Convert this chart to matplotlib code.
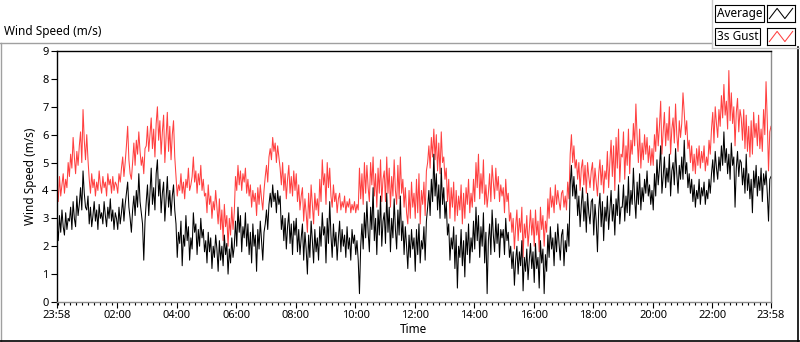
import numpy as np
import matplotlib
matplotlib.use("Agg")
import matplotlib.pyplot as plt
from matplotlib.lines import Line2D

plt.rcParams["font.family"] = ["Noto Sans", "DejaVu Sans"]

# 2.5-minute samples, two rows per hour, starting 23:58
average = [
    2.8, 2.2, 3.1, 2.5, 3.3, 2.7, 2.4, 3.2, 2.6, 3.0, 2.9, 3.4,
    2.6, 3.6, 3.0, 2.7, 3.8, 3.1, 3.5, 4.1, 3.3, 4.7, 3.9, 3.4,
    3.3, 3.8, 2.8, 3.4, 2.7, 3.1, 3.6, 2.9, 3.3, 2.6, 3.5, 3.0,
    3.2, 2.8, 3.6, 3.1, 2.7, 3.4, 3.0, 3.7, 2.9, 3.3, 2.6, 3.2,
    3.0, 2.6, 3.4, 2.8, 3.2, 3.7, 2.9, 3.5, 3.9, 4.3, 3.4, 3.0,
    2.5, 3.3, 3.8, 3.1, 4.0, 3.4, 4.6, 3.6, 3.2, 2.8, 1.5, 2.9,
    3.6, 4.2, 3.1, 3.9, 4.8, 3.5, 4.1, 3.3, 4.6, 5.1, 3.8, 4.4,
    3.2, 3.9, 4.3, 2.9, 3.7, 4.5, 3.4, 4.0, 3.1, 3.8, 4.2, 3.3,
    2.8, 1.6, 2.5, 2.1, 2.9, 1.3, 2.4, 2.0, 3.1, 2.2, 2.7, 1.5,
    2.3, 1.9, 3.2, 2.5, 2.8, 1.7, 2.6, 2.0, 3.0, 2.3, 2.6, 1.8,
    2.2, 1.4, 2.5, 1.8, 2.3, 1.2, 2.0, 1.6, 2.4, 1.9, 1.1, 2.2,
    1.5, 2.0, 1.3, 2.4, 1.7, 2.1, 1.0, 1.9, 1.4, 2.3, 1.6, 2.0,
    2.9, 2.0, 3.4, 2.5, 3.1, 1.8, 2.7, 2.3, 3.2, 2.0, 2.8, 1.7,
    2.5, 1.4, 2.8, 2.0, 2.4, 1.1, 2.6, 1.9, 2.9, 2.2, 1.5, 2.5,
    2.8, 3.3, 2.6, 3.5, 3.9, 3.4, 4.2, 3.6, 3.9, 3.2, 4.0, 3.5,
    3.8, 2.6, 3.1, 2.2, 3.0, 1.9, 2.7, 3.2, 2.1, 2.8, 1.7, 2.9,
    2.4, 3.0, 1.8, 2.6, 1.7, 2.3, 2.8, 1.5, 2.5, 1.9, 1.0, 2.4,
    1.6, 2.9, 2.2, 1.4, 2.6, 1.8, 2.3, 1.5, 2.7, 2.0, 3.2, 2.4,
    2.7, 1.4, 3.0, 2.1, 3.6, 2.4, 1.6, 2.8, 2.0, 2.5, 1.5, 2.3,
    2.9, 1.8, 2.6, 2.0, 2.4, 1.6, 2.7, 1.9, 2.3, 1.5, 2.6, 2.1,
    2.4, 1.7, 2.2, 1.5, 0.3, 2.0, 2.8, 1.9, 3.2, 2.3, 3.6, 2.5,
    1.8, 3.4, 2.6, 4.1, 2.2, 3.0, 1.7, 3.3, 2.4, 3.8, 2.0, 2.9,
    3.2, 2.1, 3.9, 2.5, 3.4, 1.8, 3.0, 2.3, 3.7, 2.6, 1.9, 3.3,
    2.4, 3.8, 2.2, 2.9, 1.7, 2.7, 2.0, 1.2, 2.4, 1.6, 2.6, 1.9,
    2.3, 1.1, 2.6, 1.7, 2.8, 1.4, 2.2, 1.9, 2.7, 1.5, 2.9, 3.4,
    4.0, 3.1, 4.4, 3.6, 5.3, 3.8, 4.6, 3.3, 4.2, 3.0, 4.8, 3.5,
    4.1, 3.0, 3.6, 2.4, 2.8, 1.5, 2.3, 1.9, 2.7, 1.2, 2.4, 0.5,
    2.0, 1.6, 2.6, 1.3, 2.2, 0.9, 2.5, 1.7, 2.8, 1.4, 2.3, 1.8,
    2.9, 1.9, 3.4, 2.2, 3.1, 1.6, 2.7, 2.0, 3.2, 1.4, 2.5, 0.3,
    2.2, 2.8, 1.7, 3.3, 2.4, 1.8, 3.0, 2.1, 2.8, 1.6, 2.6, 2.3,
    2.6, 1.7, 3.0, 2.2, 2.5, 1.6, 2.0, 1.2, 1.8, 0.6, 1.5, 2.0,
    1.0, 1.8, 1.3, 2.2, 0.4, 1.6, 1.1, 1.9, 0.8, 1.5, 2.1, 1.2,
    1.8, 0.7, 2.1, 1.2, 1.6, 0.5, 2.2, 1.4, 1.9, 0.3, 1.7, 1.1,
    2.4, 1.6, 2.7, 1.9, 2.3, 1.3, 2.5, 1.8, 2.8, 2.1, 1.5, 2.4,
    2.6, 1.3, 2.2, 1.8, 2.8, 2.0, 4.2, 4.9, 3.8, 4.5, 3.7, 4.2,
    3.1, 3.8, 2.7, 3.5, 4.1, 2.9, 3.6, 2.5, 3.9, 3.2, 2.8, 3.6,
    3.7, 2.4, 3.5, 2.9, 1.8, 3.3, 3.9, 2.7, 3.6, 2.2, 3.4, 2.9,
    3.8, 2.6, 3.3, 4.0, 2.9, 3.5, 2.4, 3.7, 3.1, 4.2, 2.8, 3.4,
    3.4, 4.2, 2.9, 3.8, 3.2, 4.5, 3.1, 4.0, 3.5, 4.8, 3.7, 3.0,
    4.3, 3.5, 4.6, 3.3, 4.1, 3.6, 4.4, 3.9, 4.7, 3.8, 4.2, 3.5,
    4.0, 3.3, 4.6, 3.8, 5.1, 4.2, 4.8, 5.6, 3.9, 4.5, 5.2, 4.1,
    4.8, 4.3, 5.3, 3.8, 4.7, 5.0, 4.2, 5.5, 4.6, 3.9, 4.9, 4.4,
    5.2, 4.4, 5.8, 4.6, 5.0, 4.1, 4.6, 3.9, 4.4, 3.6, 4.2, 3.4,
    4.0, 3.7, 4.4, 3.5, 4.1, 3.8, 4.3, 3.5, 4.0, 3.7, 4.4, 3.9,
    4.6, 5.1, 4.3, 5.4, 4.8, 4.4, 5.2, 4.7, 5.6, 4.9, 6.1, 5.0,
    5.5, 4.6, 5.3, 4.4, 5.7, 4.9, 5.2, 3.4, 4.8, 5.4, 4.5, 5.1,
    5.0, 4.2, 4.8, 3.9, 5.3, 4.0, 4.6, 3.7, 4.4, 3.2, 4.7, 4.1,
    4.9, 3.8, 4.5, 4.0, 4.8, 3.6, 4.6, 4.2, 4.7, 3.9, 2.9, 4.4,
    4.5,
]

gust = [
    4.3, 3.6, 4.5, 3.8, 4.2, 4.6, 3.9, 4.4, 4.1, 5.0, 4.5, 5.3,
    4.8, 5.9, 5.2, 4.6, 5.4, 4.9, 5.6, 6.1, 5.0, 6.9, 5.8, 5.1,
    6.0, 5.1, 4.4, 3.9, 4.6, 4.1, 4.4, 3.8, 4.3, 4.0, 4.7, 4.2,
    3.9, 4.5, 4.1, 4.3, 3.8, 4.6, 4.2, 4.4, 3.9, 4.5, 4.0, 4.3,
    4.2, 3.9, 4.6, 4.3, 4.8, 5.2, 4.5, 5.0, 5.6, 6.3, 5.1, 4.6,
    4.4, 5.0, 5.7, 4.9, 5.8, 5.3, 6.1, 5.4, 4.9, 5.2, 4.6, 5.5,
    5.6, 6.3, 5.4, 6.0, 6.6, 5.5, 6.2, 5.2, 6.4, 7.0, 5.8, 6.5,
    5.3, 6.1, 6.7, 5.0, 5.9, 6.8, 5.4, 6.3, 5.1, 6.0, 6.5, 5.2,
    4.5, 3.8, 4.2, 4.0, 4.6, 3.9, 4.3, 3.7, 4.4, 4.1, 4.8, 4.0,
    4.2, 4.5, 5.2, 4.3, 4.7, 3.9, 4.6, 4.2, 4.9, 4.0, 4.4, 3.8,
    3.9, 3.2, 4.2, 3.5, 3.8, 3.0, 3.6, 3.3, 4.0, 3.4, 2.8, 3.7,
    2.6, 3.3, 2.2, 3.5, 2.7, 3.1, 2.0, 3.0, 2.4, 3.4, 2.6, 3.2,
    4.5, 4.0, 4.9, 4.2, 4.7, 4.0, 4.6, 4.3, 4.8, 3.9, 4.4, 3.8,
    4.2, 3.4, 4.0, 3.6, 3.9, 3.1, 4.1, 3.5, 4.2, 3.7, 3.3, 4.0,
    4.5, 4.9, 4.3, 5.2, 5.5, 5.1, 5.9, 5.4, 5.7, 5.0, 5.6, 5.2,
    4.8, 4.2, 5.0, 4.0, 4.6, 3.7, 4.4, 4.9, 3.9, 4.5, 3.8, 4.7,
    4.0, 4.6, 3.6, 4.2, 3.3, 3.8, 4.1, 2.9, 3.7, 3.2, 2.5, 3.9,
    3.0, 4.2, 3.5, 2.8, 3.9, 3.3, 3.7, 3.1, 4.4, 3.6, 5.1, 4.2,
    4.6, 3.5, 5.0, 4.1, 4.8, 3.8, 3.4, 4.2, 3.6, 3.9, 3.2, 3.7,
    3.9, 3.3, 3.6, 3.4, 3.8, 3.2, 3.6, 3.4, 3.7, 3.2, 3.5, 3.3,
    3.6, 3.2, 3.5, 3.3, 4.8, 3.7, 4.6, 3.5, 5.0, 3.9, 4.9, 4.1,
    3.6, 5.0, 4.2, 5.2, 3.8, 4.6, 3.4, 4.8, 3.9, 5.1, 3.6, 4.4,
    4.7, 3.6, 5.2, 3.9, 4.8, 3.4, 4.5, 3.8, 5.1, 4.0, 3.5, 4.9,
    3.7, 5.2, 3.9, 4.4, 3.4, 4.1, 3.2, 2.8, 4.0, 3.0, 4.3, 3.4,
    3.9, 3.0, 4.4, 3.2, 4.6, 2.8, 4.0, 3.5, 4.3, 3.1, 4.7, 5.0,
    5.6, 4.8, 5.9, 5.2, 6.2, 5.1, 6.0, 4.7, 5.7, 4.6, 6.1, 5.0,
    5.2, 4.4, 4.8, 3.6, 4.4, 3.0, 4.1, 3.4, 4.3, 2.9, 4.0, 3.1,
    3.8, 3.3, 4.2, 2.8, 3.9, 3.0, 4.1, 3.5, 4.4, 3.2, 3.9, 3.4,
    4.4, 3.6, 5.0, 4.1, 5.3, 3.7, 4.6, 3.9, 5.1, 3.5, 4.2, 3.4,
    3.9, 4.6, 3.6, 4.9, 4.3, 3.7, 4.8, 4.0, 4.5, 3.6, 4.2, 3.8,
    4.1, 3.2, 4.4, 3.6, 3.9, 2.9, 3.2, 2.5, 3.0, 1.9, 2.7, 3.3,
    2.2, 3.0, 2.5, 3.4, 1.6, 2.8, 2.3, 3.1, 2.0, 2.6, 3.3, 2.4,
    3.0, 2.0, 3.3, 2.4, 2.9, 1.8, 3.4, 2.6, 3.1, 2.0, 2.9, 2.5,
    3.7, 3.0, 4.1, 3.4, 3.8, 3.2, 4.2, 3.5, 4.0, 3.6, 3.3, 3.9,
    4.0, 3.4, 3.8, 3.3, 4.3, 3.7, 5.3, 6.0, 5.0, 5.6, 4.8, 5.1,
    4.4, 5.0, 4.0, 4.8, 5.1, 4.2, 4.9, 3.9, 5.0, 4.5, 4.1, 4.7,
    5.0, 4.0, 4.8, 4.3, 3.8, 4.6, 5.1, 4.2, 4.9, 3.9, 4.7, 4.4,
    5.4, 4.1, 5.0, 5.8, 4.5, 5.6, 4.0, 5.9, 4.8, 6.2, 4.3, 5.3,
    5.2, 6.1, 4.4, 5.6, 4.9, 6.2, 4.6, 5.8, 5.3, 6.4, 5.6, 7.1,
    5.9, 5.0, 6.2, 4.8, 5.7, 5.1, 6.0, 5.3, 5.9, 5.0, 5.6, 4.9,
    5.5, 4.9, 6.0, 5.4, 6.6, 5.6, 6.3, 7.2, 5.3, 6.1, 6.8, 5.6,
    6.4, 5.8, 7.0, 5.3, 6.2, 6.6, 5.7, 7.1, 6.0, 5.4, 6.5, 5.9,
    6.4, 7.5, 6.8, 6.0, 6.5, 5.5, 5.8, 5.0, 5.6, 4.7, 5.3, 4.6,
    5.5, 4.9, 5.6, 4.8, 5.4, 5.0, 5.6, 4.7, 5.2, 4.9, 5.8, 5.3,
    6.2, 6.8, 5.7, 7.0, 6.4, 5.9, 6.9, 6.3, 7.4, 6.6, 7.8, 6.7,
    7.2, 6.2, 8.3, 6.5, 7.5, 6.4, 7.0, 5.6, 6.8, 7.3, 6.1, 6.9,
    6.6, 5.8, 6.9, 5.5, 6.7, 5.4, 6.3, 5.2, 6.5, 5.3, 6.8, 5.9,
    6.4, 5.6, 6.7, 5.5, 6.2, 5.4, 6.9, 6.0, 7.9, 6.5, 4.7, 6.1,
    6.3,
]

tick_labels = ["23:58", "02:00", "04:00", "06:00", "08:00", "10:00", "12:00",
               "14:00", "16:00", "18:00", "20:00", "22:00", "23:58"]

# hours since start of the record
hours = np.arange(len(average)) * 2.5 / 60
start_offset = 2 / 60  # 23:58 -> 00:00

fig = plt.figure(figsize=(8, 3.42), dpi=100)
ax = fig.add_axes([57 / 800, 40 / 342, 714 / 800, 251 / 342])

ax.plot(hours, gust, color="#ff4040", lw=0.75)
ax.plot(hours, average, color="black", lw=0.75)

ax.set_xlim(0, 24)
ax.set_ylim(0, 9)
ax.set_yticks(range(10))

major = [0] + [h + start_offset for h in range(2, 24, 2)] + [24]
ax.set_xticks(major)
ax.set_xticklabels(tick_labels)
minor = np.arange(start_offset, 24, 0.2)
ax.set_xticks(minor, minor=True)

ax.tick_params(axis="both", which="major", labelsize=8, length=4, width=0.8, pad=2)
ax.tick_params(axis="x", which="minor", length=2.5, width=0.8)

ax.spines["top"].set_color("black")
ax.spines["left"].set_color("black")
ax.spines["right"].set_color("#8c8c8c")
ax.spines["bottom"].set_color("#8c8c8c")
for s in ax.spines.values():
    s.set_linewidth(1)

ax.set_xlabel("Time", fontsize=8.5, labelpad=1)
ax.set_ylabel("Wind Speed (m/s)", fontsize=8.5, labelpad=4)

# graph title
fig.text(4 / 800, 1 - 31 / 342, "Wind Speed (m/s)", fontsize=8.5, va="center", ha="left")

# outer frame
fig.add_artist(Line2D([0, 712 / 800], [1 - 43 / 342] * 2, color="#a0a0a0", lw=1))
fig.add_artist(Line2D([0.5 / 800] * 2, [0, 1 - 43 / 342], color="#a0a0a0", lw=1))
fig.add_artist(Line2D([0, 1], [1.5 / 342] * 2, color="black", lw=1.2))
fig.add_artist(Line2D([797.5 / 800] * 2, [0, 1 - 47 / 342], color="black", lw=1.2))
fig.add_artist(Line2D([712 / 800] * 2, [1 - 48 / 342, 1], color="#c8c8c8", lw=1))
fig.add_artist(Line2D([712 / 800, 1], [1 - 48 / 342] * 2, color="#c8c8c8", lw=1))

# legend
for row, (name, col) in enumerate([("Average", "black"), ("3s Gust", "#ff4040")]):
    ytop = 5 + row * 23
    fig.text(717 / 800, 1 - (ytop + 8.5) / 342, name, fontsize=8.5, va="center", ha="left",
             bbox=dict(boxstyle="square,pad=0.15", fc="white", ec="black", lw=0.8))
    sw = fig.add_axes([767 / 800, 1 - (ytop + 17) / 342, 28 / 800, 17 / 342])
    sw.plot([0, 1, 2, 3], [0.2, 0.8, 0.2, 0.8], color=col, lw=0.75)
    sw.set_xlim(-0.3, 3.3)
    sw.set_ylim(0, 1)
    sw.set_xticks([])
    sw.set_yticks([])
    for s in sw.spines.values():
        s.set_color("black")
        s.set_linewidth(0.8)

fig.savefig("out.png", dpi=100)
